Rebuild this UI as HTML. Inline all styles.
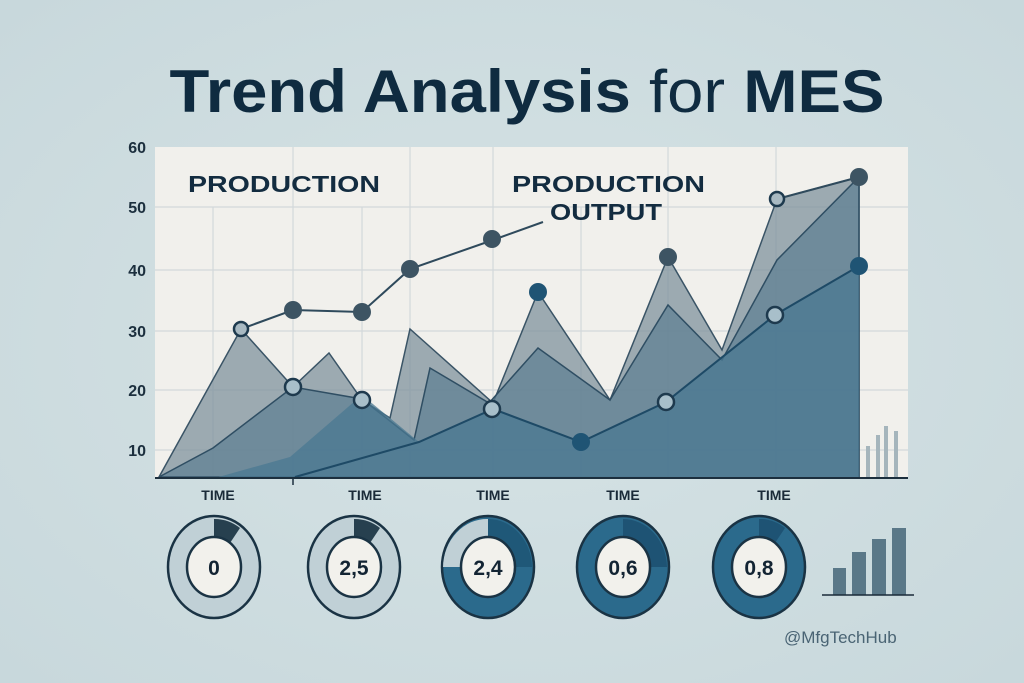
<!DOCTYPE html>
<html><head><meta charset="utf-8"><style>
html,body{margin:0;padding:0;background:#cddcdf;}
svg{display:block;font-family:"Liberation Sans",sans-serif;}
</style></head><body>
<svg width="1024" height="683" viewBox="0 0 1024 683">
<defs>
<radialGradient id="bg" cx="50%" cy="50%" r="70%"><stop offset="0" stop-color="#d6e3e5"/><stop offset="1" stop-color="#c8d8dc"/></radialGradient>
</defs>
<rect width="1024" height="683" fill="url(#bg)"/>
<text x="527" y="112" text-anchor="middle" font-size="60" font-weight="bold" fill="#0f2b40" textLength="715" lengthAdjust="spacingAndGlyphs">Trend Analysis <tspan font-weight="normal">for</tspan> MES</text>
<!-- plot panel -->
<rect x="155" y="147" width="753" height="331" fill="#f1f0ec"/>
<g stroke="#d3d8da" stroke-width="1.2">
<line x1="155" y1="207" x2="908" y2="207"/><line x1="155" y1="270" x2="908" y2="270"/><line x1="155" y1="331" x2="908" y2="331"/><line x1="155" y1="390" x2="908" y2="390"/><line x1="155" y1="450" x2="908" y2="450"/>
<line x1="213" y1="207" x2="213" y2="478"/><line x1="293" y1="147" x2="293" y2="478"/><line x1="362" y1="207" x2="362" y2="478"/><line x1="410" y1="147" x2="410" y2="478"/><line x1="493" y1="147" x2="493" y2="478"/><line x1="581" y1="207" x2="581" y2="478"/><line x1="668" y1="147" x2="668" y2="478"/><line x1="776" y1="147" x2="776" y2="478"/>
</g>
<g font-size="16" fill="#1c2f3e" text-anchor="end" font-weight="bold">
<text x="146" y="153">60</text><text x="146" y="213">50</text><text x="146" y="276">40</text><text x="146" y="337">30</text><text x="146" y="396">20</text><text x="146" y="456">10</text>
</g>
<!-- layers -->
<polygon points="159,477 241,329 293,387 329,353 362,400 390,418 410,329 493,403 538,292 610,400 668,257 722,350 777,199 859,177 859,297 859,478" fill="#7f939e" fill-opacity="0.75" stroke="#3a5466" stroke-width="1.5"/>
<polygon points="159,477 213,448 293,387 362,399 414,440 430,368 489,403 538,348 610,400 668,305 722,360 777,260 859,177 859,478" fill="#5d7d92" fill-opacity="0.7" stroke="#2f4e63" stroke-width="1.5"/>
<polygon points="215,478 290,457 362,395 419,442 493,409 581,442 666,402 775,315 859,266 859,478" fill="#4a7891" fill-opacity="0.75"/>
<polyline points="295,477 419,442 493,409 581,442 666,402 775,315 859,266" fill="none" stroke="#1e4a66" stroke-width="2"/>
<polyline points="241,329 293,310 362,312 410,269 493,240 543,222" fill="none" stroke="#2f4a5c" stroke-width="2"/>
<line x1="777" y1="199" x2="859" y2="177" stroke="#2f4a5c" stroke-width="2"/>
<g stroke="#1e3a4e" stroke-width="2.5">
<circle cx="241" cy="329" r="7" fill="#a8b9c2"/><circle cx="777" cy="199" r="7" fill="#a8b9c2"/>
<circle cx="293" cy="387" r="8" fill="#a8bfca"/><circle cx="362" cy="400" r="8" fill="#a8bfca"/><circle cx="492" cy="409" r="8" fill="#a8bfca"/><circle cx="666" cy="402" r="8" fill="#a8bfca"/><circle cx="775" cy="315" r="8" fill="#a8bfca"/>
</g>
<g fill="#3d5463"><circle cx="293" cy="310" r="9"/><circle cx="362" cy="312" r="9"/><circle cx="410" cy="269" r="9"/><circle cx="492" cy="239" r="9"/><circle cx="668" cy="257" r="9"/><circle cx="859" cy="177" r="9"/></g>
<g fill="#1f5474"><circle cx="538" cy="292" r="9"/><circle cx="581" cy="442" r="9"/><circle cx="859" cy="266" r="9"/></g>
<g fill="#a5b5bc"><rect x="866" y="446" width="4" height="32"/><rect x="876" y="435" width="4" height="43"/><rect x="884" y="426" width="4" height="52"/><rect x="894" y="431" width="4" height="47"/></g>
<line x1="155" y1="478" x2="908" y2="478" stroke="#1c2f3e" stroke-width="2"/>
<line x1="293" y1="478" x2="293" y2="485" stroke="#1c2f3e" stroke-width="1.5"/>
<g font-size="23" font-weight="bold" fill="#132c40">
<text x="188" y="192" textLength="192" lengthAdjust="spacingAndGlyphs">PRODUCTION</text>
<text x="512" y="192" textLength="193" lengthAdjust="spacingAndGlyphs">PRODUCTION</text>
<text x="550" y="220" textLength="112" lengthAdjust="spacingAndGlyphs">OUTPUT</text>
</g>
<g font-size="14" font-weight="bold" fill="#1a2a38" text-anchor="middle">
<text x="218" y="500">TIME</text><text x="365" y="500">TIME</text><text x="493" y="500">TIME</text><text x="623" y="500">TIME</text><text x="774" y="500">TIME</text>
</g>
<!-- donuts -->
<g stroke="#1a3344" stroke-width="2.5">
<ellipse cx="214" cy="567" rx="46" ry="51" fill="#c0d0d6"/>
<path d="M214,567 L214,519 A44,49 0 0 1 240,528 Z" fill="#27404f" stroke="none"/>
<ellipse cx="214" cy="567" rx="27" ry="30" fill="#f2f1ec"/>
<ellipse cx="354" cy="567" rx="46" ry="51" fill="#c0d0d6"/>
<path d="M354,567 L354,519 A44,49 0 0 1 380,528 Z" fill="#27404f" stroke="none"/>
<ellipse cx="354" cy="567" rx="27" ry="30" fill="#f2f1ec"/>
<ellipse cx="488" cy="567" rx="46" ry="51" fill="#2b6a8c"/>
<path d="M488,567 L488,519 A44,49 0 0 0 443,567 Z" fill="#c0d0d6" stroke="none"/>
<path d="M488,567 L488,519 A44,49 0 0 1 532,567 Z" fill="#1f5878" stroke="none"/>
<ellipse cx="488" cy="567" rx="27" ry="30" fill="#f2f1ec"/>
<ellipse cx="623" cy="567" rx="46" ry="51" fill="#2b6a8c"/>
<path d="M623,567 L623,519 A44,49 0 0 1 667,567 Z" fill="#1e5374" stroke="none"/>
<ellipse cx="623" cy="567" rx="27" ry="30" fill="#f2f1ec"/>
<ellipse cx="759" cy="567" rx="46" ry="51" fill="#2b6a8c"/>
<path d="M759,567 L759,519 A44,49 0 0 1 785,528 Z" fill="#1e5374" stroke="none"/>
<ellipse cx="759" cy="567" rx="27" ry="30" fill="#f2f1ec"/>
</g>
<g font-size="21" font-weight="bold" fill="#132433" text-anchor="middle">
<text x="214" y="575">0</text><text x="354" y="575">2,5</text><text x="488" y="575">2,4</text><text x="623" y="575">0,6</text><text x="759" y="575">0,8</text>
</g>
<g fill="#5a7888"><rect x="833" y="568" width="13" height="27"/><rect x="852" y="552" width="14" height="43"/><rect x="872" y="539" width="14" height="56"/><rect x="892" y="528" width="14" height="67"/></g>
<line x1="822" y1="595" x2="914" y2="595" stroke="#1a2a38" stroke-width="1.5"/>
<text x="784" y="643" font-size="17" fill="#4a6474">@MfgTechHub</text>
</svg>
</body></html>
